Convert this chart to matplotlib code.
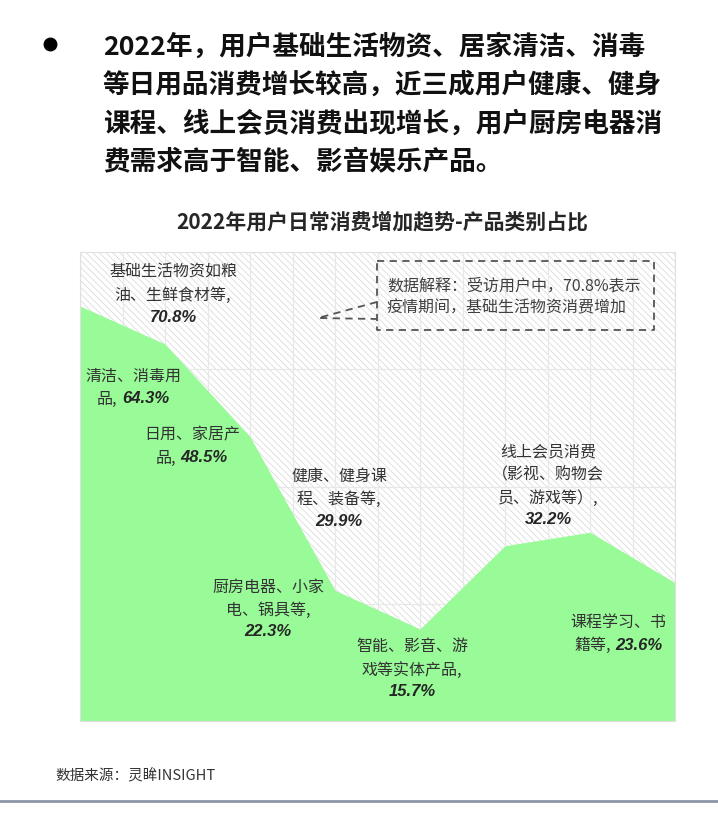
import matplotlib
matplotlib.use("Agg")
import matplotlib.pyplot as plt
from matplotlib.patches import Rectangle
from matplotlib.lines import Line2D
from matplotlib.offsetbox import TextArea, HPacker, AnnotationBbox

plt.rcParams['font.family'] = ['Noto Sans CJK SC', 'DejaVu Sans']
plt.rcParams['hatch.linewidth'] = 0.5

# ---------------- data ----------------
categories = ["基础生活物资如粮油、生鲜食材等", "清洁、消毒用品", "日用、家居产品",
              "厨房电器、小家电、锅具等", "智能、影音、游戏等实体产品",
              "健康、健身课程、装备等", "线上会员消费（影视、购物会员、游戏等）",
              "课程学习、书籍等"]
values = [70.8, 64.3, 48.5, 22.3, 15.7, 29.9, 32.2, 23.6]
label_lines = [["基础生活物资如粮", "油、生鲜食材等,"],
               ["清洁、消毒用", "品,"],
               ["日用、家居产", "品,"],
               ["厨房电器、小家", "电、锅具等,"],
               ["智能、影音、游", "戏等实体产品,"],
               ["健康、健身课", "程、装备等,"],
               ["线上会员消费", "（影视、购物会", "员、游戏等）,"],
               ["课程学习、书", "籍等,"]]
pct_inline = [False, True, True, False, False, False, False, True]

headline = ["2022年，用户基础生活物资、居家清洁、消毒",
            "等日用品消费增长较高，近三成用户健康、健身",
            "课程、线上会员消费出现增长，用户厨房电器消",
            "费需求高于智能、影音娱乐产品。"]
title = "2022年用户日常消费增加趋势-产品类别占比"
note_lines = ["数据解释：受访用户中，70.8%表示", "疫情期间，基础生活物资消费增加"]
source = "数据来源：灵眸INSIGHT"

# ---------------- layout ----------------
W, H = 718, 831
fig = plt.figure(figsize=(W / 100, H / 100), dpi=100)
fig.patch.set_facecolor('white')


def fx(px):
    return px / W


def fy(py):
    return 1 - py / H


ax_l, ax_r, ax_t, ax_b = 80, 675, 252, 721
ax = fig.add_axes([fx(ax_l), fy(ax_b), (ax_r - ax_l) / W, (ax_b - ax_t) / H])
ax.set_xlim(0, len(values) - 1)
ax.set_ylim(0, 80)
ax.set_xticks([])
ax.set_yticks([])
for s in ax.spines.values():
    s.set_color('#e0e0e0')
    s.set_linewidth(0.8)
    s.set_zorder(3)

# hatched background
ax.add_patch(Rectangle((0, 0), 1, 1, transform=ax.transAxes, facecolor='white',
                       edgecolor='#d6d6d6', hatch='\\' * 5, lw=0, zorder=0))
# grid
n = len(values) - 1
for i in range(2 * n + 1):
    ax.axvline(i / 2, color='#e8e8e8', lw=0.9, zorder=1)
for yv in (20, 40, 60):
    ax.axhline(yv, color='#e8e8e8', lw=0.9, zorder=1)

xs = list(range(len(values)))
ax.fill_between(xs, values, 0, color='#98FB98', lw=0, zorder=2)

# ---------------- labels ----------------
cjk_props = dict(family=['Noto Sans CJK SC'], size=11.5, color='#333333')
pct_props = dict(family=['Liberation Sans'], size=12, weight='bold',
                 style='italic', color='#262626')

label_pos = [(173, 272), (133, 376), (192, 435), (268, 587),
             (412, 647), (339, 476), (548, 452), (618, 622)]
pitch = 23


def draw_line(x, y, parts):
    kids = [TextArea(t, textprops=p) for t, p in parts]
    box = HPacker(children=kids, sep=3, pad=0, align='baseline')
    ab = AnnotationBbox(box, (fx(x), fy(y)), xycoords='figure fraction',
                        frameon=False, box_alignment=(0.5, 0.5), pad=0,
                        annotation_clip=False, zorder=5)
    ax.add_artist(ab)


for i, v in enumerate(values):
    x0, y0 = label_pos[i]
    lines = label_lines[i]
    pct = f"{v:.1f}%"
    for j, ln in enumerate(lines):
        parts = [(ln, cjk_props)]
        if pct_inline[i] and j == len(lines) - 1:
            parts.append((pct, pct_props))
        draw_line(x0, y0 + j * pitch, parts)
    if not pct_inline[i]:
        draw_line(x0, y0 + len(lines) * pitch - 1, [(pct, pct_props)])

# ---------------- note box ----------------
def to_fig(pts):
    return [fx(p[0]) for p in pts], [fy(p[1]) for p in pts]


bx, by = to_fig([(377, 261), (654, 261), (654, 330), (377, 330), (377, 261)])
fig.add_artist(Line2D(bx, by, transform=fig.transFigure, color='#555555',
                      lw=1.3, linestyle=(0, (4, 3)), zorder=6))
cx, cy = to_fig([(377, 302), (318, 318), (377, 319)])
fig.add_artist(Line2D(cx, cy, transform=fig.transFigure, color='#555555',
                      lw=1.3, linestyle=(0, (4, 3)), zorder=6))
for j, ln in enumerate(note_lines):
    fig.text(fx(387), fy(286 + j * 22), ln, ha='left', va='center',
             family=['Noto Sans CJK SC', 'DejaVu Sans'], size=11.5,
             color='#404040', zorder=7)

# ---------------- headline ----------------
fig.add_artist(Line2D([fx(50)], [fy(44)], transform=fig.transFigure,
                      marker='o', markersize=9, color='black', lw=0))
for j, ln in enumerate(headline):
    fig.text(fx(103), fy(47 + j * 38.5), ln, ha='left', va='center',
             family=['Noto Sans CJK SC'], size=19.2, weight='bold',
             color='#111111')

fig.text(fx(382), fy(222), title, ha='center', va='center',
         family=['Noto Sans CJK SC'], size=15, weight='bold', color='#262626')

fig.text(fx(55), fy(776), source, ha='left', va='center',
         family=['Noto Sans CJK SC'], size=10.5, color='#333333')
fig.add_artist(Line2D([0, 1], [fy(801), fy(801)], transform=fig.transFigure,
                      color='#8c96a8', lw=2))

fig.savefig('out.png', dpi=100, facecolor='white')
